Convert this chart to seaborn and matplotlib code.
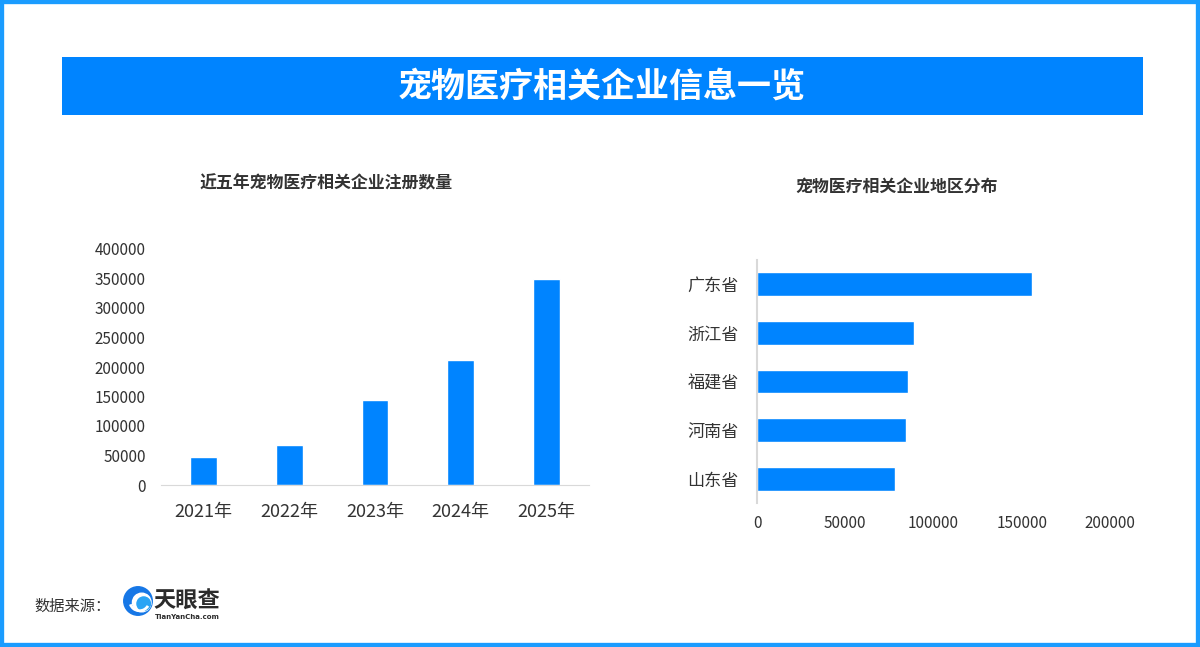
import numpy as np
import pandas as pd
import seaborn as sns
import matplotlib.pyplot as plt
from matplotlib.patches import Rectangle, Circle, Arc

# data
years = ['2021年', '2022年', '2023年', '2024年', '2025年']
registrations = [48000, 68000, 144000, 212000, 349000]

provinces = ['广东省', '浙江省', '福建省', '河南省', '山东省']
province_counts = [156000, 89000, 85500, 84400, 78200]

year_ticks = [0, 50000, 100000, 150000, 200000, 250000, 300000, 350000, 400000]
prov_ticks = [0, 50000, 100000, 150000, 200000]

sns.set_style('white')
plt.rcParams['font.family'] = ['Noto Sans CJK SC', 'DejaVu Sans']

BLUE = '#0084ff'
TXT = '#333333'
W, H = 1200, 647

fig = plt.figure(figsize=(12, 6.47), dpi=100)

def fx(px):
    return px / W

def fy(py):
    return 1 - py / H

# outer frame and title bar
fig.patches.append(Rectangle((0, 0), 1, 1, transform=fig.transFigure, fill=False,
                             edgecolor='#1a9cff', lw=6, zorder=0))
fig.patches.append(Rectangle((fx(62), fy(115)), fx(1081), 58 / H, transform=fig.transFigure,
                             facecolor=BLUE, edgecolor='none', zorder=0))
fig.text(fx(602), fy(86), '宠物医疗相关企业信息一览', color='white', fontsize=24.5,
         fontweight='bold', ha='center', va='center')

# left chart: yearly registrations
df_year = pd.DataFrame({'year': years, 'count': registrations})
ax1 = fig.add_axes([fx(161), fy(485), fx(428), 236 / H])
sns.barplot(data=df_year, x='year', y='count', color=BLUE, width=0.315, saturation=1, ax=ax1)
ax1.set_ylim(0, 400000)
ax1.set_xlim(-0.5, 4.5)
ax1.set_yticks(year_ticks)
ax1.set_yticklabels([str(t) for t in year_ticks])
ax1.set_xlabel('')
ax1.set_ylabel('')
for s in ['top', 'right', 'left']:
    ax1.spines[s].set_visible(False)
ax1.spines['bottom'].set_color('#d9d9d9')
ax1.tick_params(axis='y', length=0, pad=11, labelsize=11, labelcolor=TXT)
ax1.tick_params(axis='x', length=0, pad=13, labelsize=13, labelcolor=TXT)
fig.text(fx(326), fy(183), '近五年宠物医疗相关企业注册数量', color=TXT, fontsize=12.2,
         fontweight='bold', ha='center', va='center')

# right chart: regional distribution
df_prov = pd.DataFrame({'province': provinces, 'count': province_counts})
ax2 = fig.add_axes([fx(757), fy(503), fx(353), 243 / H])
sns.barplot(data=df_prov, x='count', y='province', orient='h', color=BLUE, width=0.49,
            saturation=1, ax=ax2)
ax2.set_xlim(0, 200000)
ax2.set_ylim(4.5, -0.5)
ax2.set_xticks(prov_ticks)
ax2.set_xticklabels([str(t) for t in prov_ticks])
ax2.set_xlabel('')
ax2.set_ylabel('')
for s in ['top', 'right', 'bottom']:
    ax2.spines[s].set_visible(False)
ax2.spines['left'].set_color('#d9d9d9')
ax2.spines['left'].set_linewidth(1.5)
ax2.tick_params(axis='x', length=0, pad=9, labelsize=11, labelcolor=TXT)
ax2.tick_params(axis='y', length=0, pad=13, labelsize=12.3, labelcolor=TXT)
fig.text(fx(897), fy(187), '宠物医疗相关企业地区分布', color=TXT, fontsize=12.2,
         fontweight='bold', ha='center', va='center')

# footer with source logo
fig.text(fx(34), fy(606), '数据来源：', color=TXT, fontsize=11, ha='left', va='center')
logo = fig.add_axes([fx(123), fy(616), fx(30), 30 / H])
logo.set_xlim(-1, 1)
logo.set_ylim(-1, 1)
logo.set_aspect('equal')
logo.axis('off')
logo.add_patch(Circle((0, 0), 0.95, color='#1677e6'))
logo.add_patch(Circle((0.25, -0.1), 0.62, color='white'))
logo.add_patch(Circle((0.38, -0.18), 0.45, color='#2aa4f4'))
logo.add_patch(Arc((0.1, 0.0), 1.3, 1.3, theta1=200, theta2=330, color='white', lw=2))
fig.text(fx(153), fy(601), '天眼查', color='#2b2b2b', fontsize=16, fontweight='bold',
         ha='left', va='center')
fig.text(fx(155), fy(617), 'TianYanCha.com', color='#2b2b2b', fontsize=5,
         fontweight='bold', ha='left', va='center', family='DejaVu Sans')

fig.savefig('out.png', dpi=100)
